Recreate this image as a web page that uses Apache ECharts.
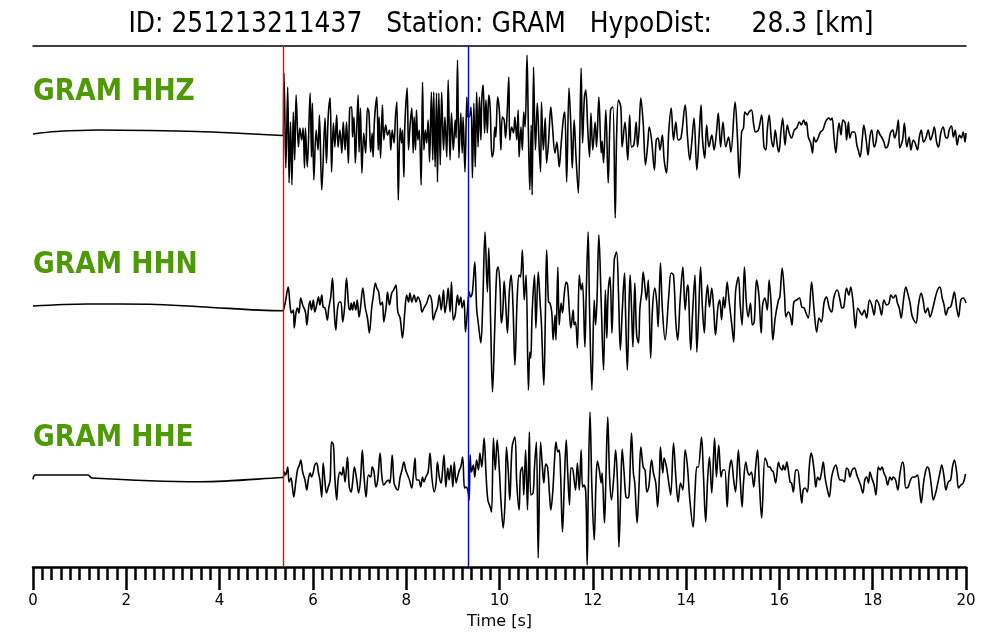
<!DOCTYPE html>
<html>
<head>
<meta charset="utf-8">
<script src="https://cdn.jsdelivr.net/npm/echarts@6/dist/echarts.min.js"></script>
<style>
html,body{margin:0;padding:0;background:#fff;}
#chart{width:1000px;height:640px;}
</style>
</head>
<body>
<div id="chart"></div>
<script>
// ---- Data (time [s], amplitude [arbitrary counts]) ----
const titleText = 'ID: 251213211437   Station: GRAM   HypoDist:     28.3 [km]';
const stationLabels = ['GRAM HHZ', 'GRAM HHN', 'GRAM HHE'];
const pPick = 5.36;   // red line
const sPick = 9.32;   // blue line
const xTicks = [0, 2, 4, 6, 8, 10, 12, 14, 16, 18, 20];

const hhz = [[0,-1],[0.5,1.5],[1.4,3],[2.5,2.5],[3.5,1.5],[4.5,-0.5],[5.35,-2.5],
[5.38,60],[5.42,-35],[5.46,46],[5.49,-50],[5.52,11],[5.55,-52],[5.58,21],[5.61,-27],[5.64,38],[5.69,-14],[5.72,5],[5.76,-7],[5.79,5],[5.82,-35],[5.84,5],[5.88,-34],[5.94,40],[5.97,-24],[5.99,30],[6.02,-47],[6.07,3],[6.11,-17],[6.14,18],[6.19,-57],[6.26,15],[6.29,-30],[6.33,18],[6.37,35],[6.40,-39],[6.44,10],[6.47,-14],[6.51,18],[6.54,-14],[6.58,3],[6.62,-20],[6.65,11],[6.69,-17],[6.72,11],[6.76,-30],[6.79,25],[6.83,26],[6.85,-4],[6.88,16],[6.91,-30],[6.94,6],[6.97,38],[6.99,-19],[7.02,25],[7.05,-40],[7.09,0],[7.13,-20],[7.17,25],[7.20,21],[7.24,-19],[7.27,0],[7.29,-24],[7.32,13],[7.37,36],[7.40,-17],[7.42,16],[7.45,-25],[7.49,28],[7.52,-7],[7.56,8],[7.60,-2],[7.64,3],[7.67,-17],[7.70,3],[7.74,-10],[7.77,16],[7.80,31],[7.83,-67],[7.87,5],[7.90,-10],[7.92,3],[7.95,-44],[7.97,6],[8.02,45],[8.05,-17],[8.08,6],[8.12,25],[8.15,-20],[8.17,16],[8.20,-17],[8.22,23],[8.25,-7],[8.28,3],[8.32,-52],[8.35,51],[8.38,-17],[8.41,3],[8.44,-10],[8.47,13],[8.50,-29],[8.54,41],[8.57,-27],[8.59,41],[8.62,-34],[8.65,40],[8.67,-49],[8.70,40],[8.73,-32],[8.76,41],[8.80,-17],[8.83,16],[8.87,-24],[8.90,53],[8.94,-27],[8.97,20],[9.01,-17],[9.05,13],[9.07,-5],[9.10,73],[9.13,-25],[9.17,20],[9.20,-20],[9.22,16],[9.26,-39],[9.30,36],[9.32,16],[9.35,16],[9.39,26],[9.42,-45],[9.45,30],[9.48,-34],[9.51,41],[9.54,-14],[9.57,36],[9.60,-7],[9.62,33],[9.65,48],[9.68,0],[9.71,33],[9.74,0],[9.77,38],[9.80,25],[9.84,-24],[9.87,-19],[9.90,6],[9.92,-4],[9.96,36],[10.00,20],[10.03,-17],[10.06,16],[10.10,13],[10.13,-5],[10.16,16],[10.20,56],[10.22,-7],[10.26,6],[10.30,0],[10.33,16],[10.37,-7],[10.40,23],
[10.42,-24],[10.46,6],[10.49,-17],[10.52,21],[10.55,6],[10.59,78],[10.62,0],[10.65,-57],[10.68,8],[10.70,-62],[10.73,66],[10.77,-17],[10.81,30],[10.85,-14],[10.88,-39],[10.90,31],[10.94,-17],[10.98,15],[11.01,-30],[11.05,-10],[11.10,26],[11.13,10],[11.19,-20],[11.23,-9],[11.28,-34],[11.32,-12],[11.37,15],[11.40,21],[11.44,-49],[11.49,45],[11.53,6],[11.56,-35],[11.60,13],[11.64,-24],[11.69,-60],[11.75,65],[11.78,-10],[11.82,36],[11.85,43],[11.89,6],[11.93,-24],[11.96,20],[12.00,-17],[12.05,11],[12.08,-14],[12.13,36],[12.18,-20],[12.20,-8],[12.23,-30],[12.28,23],[12.33,-50],[12.38,23],[12.43,26],[12.48,-85],[12.51,-4],[12.55,33],[12.60,26],[12.63,-14],[12.69,11],[12.75,-27],[12.79,18],[12.83,-14],[12.88,-12],[12.93,11],[12.96,-14],[12.99,1],[13.03,35],[13.08,10],[13.13,-32],[13.18,-10],[13.21,6],[13.26,-7],[13.32,-37],[13.36,-7],[13.40,-5],[13.44,-17],[13.49,-2],[13.53,-27],[13.58,-40],[13.63,3],[13.68,25],[13.73,-7],[13.78,11],[13.83,-7],[13.89,-5],[13.98,28],[14.03,-4],[14.08,-27],[14.12,-10],[14.17,15],[14.23,-37],[14.28,-2],[14.32,28],[14.35,-5],[14.40,-25],[14.44,8],[14.49,-14],[14.55,-2],[14.60,-17],[14.65,0],[14.69,20],[14.74,-14],[14.79,11],[14.85,-14],[14.91,-4],[14.96,-19],[15.05,31],[15.10,-4],[15.14,-45],[15.19,1],[15.23,5],[15.26,21],[15.31,18],[15.35,21],[15.40,23],[15.45,8],[15.49,1],[15.55,3],
[15.62,18],[15.67,-14],[15.71,-17],[15.74,3],[15.78,18],[15.83,-7],[15.87,-14],[15.91,3],[15.96,-14],[15.99,-19],[16.03,0],[16.07,15],[16.12,-12],[16.17,8],[16.21,0],[16.26,-5],[16.32,3],[16.37,5],[16.43,11],[16.47,8],[16.52,13],[16.56,8],[16.58,11],[16.62,-4],[16.67,-10],[16.71,-20],[16.74,-4],[16.78,-9],[16.83,-5],[16.88,1],[16.93,3],[16.98,10],[17.01,13],[17.06,15],[17.10,13],[17.13,15],[17.17,-4],[17.21,-20],[17.25,1],[17.28,10],[17.32,-2],[17.36,13],[17.41,10],[17.44,-7],[17.48,11],[17.51,-5],[17.56,1],[17.61,1],[17.66,-12],[17.69,-17],[17.73,-24],[17.78,-4],[17.81,8],[17.86,-7],[17.90,-22],[17.94,-4],[17.98,3],[18.03,-14],[18.07,-9],[18.11,3],[18.16,-2],[18.19,-4],[18.24,-9],[18.28,-15],[18.33,-12],[18.38,0],[18.43,3],[18.47,-5],[18.51,1],[18.55,13],[18.58,-15],[18.64,-7],[18.68,10],[18.73,-14],[18.78,-4],[18.82,-17],[18.87,-7],[18.91,-10],[18.96,-17],[19.00,-4],[19.04,3],[19.09,-9],[19.14,-5],[19.19,3],[19.24,-7],[19.28,-2],[19.32,6],[19.37,-9],[19.41,-14],[19.46,0],[19.51,6],[19.56,-4],[19.60,-5],[19.64,3],[19.69,7],[19.73,-4],[19.77,3],[19.81,-12],[19.86,-2],[19.90,-5],[19.94,1],[19.98,-9],[20.00,0]];

const hhn = [[0,1],[1.16,3],[2.5,2.7],[3.58,0.3],[5.35,-3.7],
[5.37,-3],[5.41,5],[5.47,20],[5.51,2],[5.54,-6],[5.58,-3],[5.60,-21],[5.64,-5],[5.67,-1],[5.70,-6],[5.74,9],[5.78,2],[5.84,-5],[5.87,-18],[5.91,0],[5.94,6],[5.97,-3],[6.01,7],[6.04,-5],[6.08,2],[6.12,10],[6.15,2],[6.19,12],[6.22,0],[6.26,-1],[6.31,-13],[6.34,-1],[6.38,9],[6.42,29],[6.45,2],[6.49,-23],[6.53,-1],[6.57,5],[6.60,5],[6.64,-15],[6.68,0],[6.72,29],[6.77,-1],[6.80,-3],[6.82,4],[6.85,-3],[6.88,5],[6.92,-3],[6.95,7],[6.99,-10],[7.02,-1],[7.07,19],[7.12,0],[7.17,-11],[7.21,-26],[7.26,-1],[7.29,9],[7.34,24],[7.37,19],[7.41,15],[7.45,2],[7.49,5],[7.52,-15],[7.57,0],[7.60,15],[7.64,2],[7.69,14],[7.73,17],[7.78,22],[7.82,-5],[7.87,-11],[7.92,-31],[7.97,-5],[8.01,12],[8.05,5],[8.08,14],[8.12,5],[8.17,12],[8.21,5],[8.25,10],[8.30,5],[8.34,-5],[8.38,-1],[8.44,4],[8.50,12],[8.55,5],[8.58,-13],[8.63,-5],[8.67,0],[8.71,12],[8.75,-3],[8.80,17],[8.83,-6],[8.87,5],[8.90,19],[8.94,-5],[8.97,25],[9.01,-13],[9.05,-8],[9.10,12],[9.13,2],[9.17,10],[9.20,-1],[9.24,7],[9.27,-25],[9.31,-5],[9.35,15],[9.38,10],[9.42,15],[9.47,45],[9.51,-1],[9.55,-18],[9.60,-36],[9.64,2],[9.69,75],[9.74,15],[9.77,59],[9.81,-15],[9.85,-85],[9.90,-18],[9.94,35],[9.97,40],[10.01,22],[10.04,-16],[10.07,-5],[10.10,26],[10.14,-3],[10.17,-26],[10.21,15],[10.25,32],[10.29,0],[10.33,-58],[10.38,10],[10.42,32],[10.45,30],
[10.49,57],[10.53,7],[10.57,32],[10.62,-83],[10.65,-45],[10.67,-51],[10.70,-5],[10.75,32],[10.78,-21],[10.83,35],[10.87,5],[10.90,-18],[10.95,-78],[10.98,-18],[11.01,57],[11.05,5],[11.08,4],[11.12,-5],[11.15,-33],[11.19,-8],[11.21,-33],[11.25,40],[11.28,-18],[11.32,4],[11.35,-6],[11.39,14],[11.43,25],[11.46,22],[11.50,-6],[11.53,-21],[11.58,-3],[11.60,-18],[11.63,-15],[11.67,-41],[11.71,32],[11.75,17],[11.78,24],[11.83,-40],[11.86,15],[11.90,75],[11.93,-1],[11.98,-83],[12.03,7],[12.06,-18],[12.09,7],[12.13,72],[12.18,5],[12.23,-63],[12.27,17],[12.30,-31],[12.33,15],[12.37,30],[12.41,-26],[12.46,47],[12.51,55],[12.55,15],[12.59,-43],[12.63,-5],[12.68,34],[12.70,-1],[12.74,-63],[12.78,9],[12.80,32],[12.83,-1],[12.86,-40],[12.90,24],[12.94,-28],[12.98,-36],[13.01,-1],[13.05,15],[13.08,35],[13.12,19],[13.15,7],[13.19,27],[13.24,-51],[13.28,-1],[13.33,19],[13.37,5],[13.40,-20],[13.45,44],[13.49,-1],[13.55,-33],[13.63,12],[13.68,34],[13.73,32],[13.78,-15],[13.82,-33],[13.87,5],[13.93,40],[13.98,-3],[14.03,22],[14.05,17],[14.10,-43],[14.14,-5],[14.19,32],[14.23,-45],[14.27,-5],[14.31,40],[14.35,-1],[14.39,-26],[14.42,2],[14.46,22],[14.50,0],[14.55,19],[14.59,-1],[14.63,-28],[14.68,-1],[14.72,7],[14.76,-13],[14.80,10],[14.83,-1],[14.88,25],[14.92,7],[14.98,-18],[15.02,-35],[15.06,15],[15.12,30],[15.16,2],[15.20,-18],[15.25,40],[15.29,5],[15.33,-10],[15.38,4],[15.42,-18],[15.46,-15],[15.51,27],[15.56,12],[15.61,-26],
[15.64,2],[15.69,9],[15.74,-3],[15.78,27],[15.82,5],[15.86,-33],[15.91,-11],[15.98,7],[16.01,10],[16.06,39],[16.11,12],[16.14,-10],[16.19,-5],[16.23,-8],[16.27,-18],[16.31,5],[16.37,7],[16.43,9],[16.48,0],[16.53,-1],[16.57,-6],[16.62,-11],[16.69,25],[16.74,-1],[16.80,-25],[16.85,-11],[16.90,-15],[16.96,5],[17.01,10],[17.07,-1],[17.12,-5],[17.17,10],[17.24,17],[17.30,7],[17.34,-1],[17.38,0],[17.44,19],[17.49,12],[17.53,20],[17.58,4],[17.63,-21],[17.68,-1],[17.73,-5],[17.77,-8],[17.82,-3],[17.87,-11],[17.93,7],[17.98,2],[18.03,-8],[18.08,7],[18.14,2],[18.19,-8],[18.24,7],[18.30,2],[18.35,4],[18.39,12],[18.44,9],[18.49,12],[18.53,4],[18.57,-1],[18.61,-11],[18.66,7],[18.71,20],[18.76,12],[18.80,4],[18.84,-8],[18.88,-13],[18.93,-16],[18.98,2],[19.04,14],[19.08,7],[19.13,-6],[19.18,-1],[19.23,-10],[19.29,-1],[19.34,9],[19.39,17],[19.44,20],[19.49,9],[19.53,2],[19.57,-8],[19.62,-1],[19.67,0],[19.71,7],[19.75,15],[19.80,-1],[19.84,-10],[19.89,7],[19.94,9],[20.00,4]];

const hhe = [[0,-1.3],[0.05,3],[1.18,3],[1.26,0],[3.58,-3.7],[5.35,0.5],
[5.37,1],[5.39,6],[5.42,3],[5.46,11],[5.49,-4],[5.53,0],[5.56,-9],[5.59,-19],[5.63,-5],[5.67,8],[5.71,13],[5.74,18],[5.78,6],[5.83,-2],[5.87,-12],[5.90,-2],[5.94,5],[5.97,1],[6.01,6],[6.04,13],[6.08,15],[6.12,5],[6.15,-2],[6.19,-19],[6.22,15],[6.26,-4],[6.29,-15],[6.33,-9],[6.37,-2],[6.40,36],[6.44,33],[6.47,1],[6.51,-22],[6.54,-2],[6.58,6],[6.62,3],[6.65,11],[6.69,-4],[6.74,21],[6.78,-9],[6.82,-14],[6.85,-5],[6.89,11],[6.94,-2],[6.98,-15],[7.02,-2],[7.06,28],[7.09,6],[7.14,-19],[7.19,3],[7.24,1],[7.27,11],[7.31,6],[7.35,-9],[7.39,-2],[7.44,25],[7.48,1],[7.52,-7],[7.57,-4],[7.62,-2],[7.65,-5],[7.70,23],[7.74,-5],[7.78,-10],[7.82,-12],[7.87,1],[7.91,8],[7.95,16],[7.99,8],[8.03,3],[8.07,-2],[8.12,-10],[8.15,1],[8.19,20],[8.22,-2],[8.27,-2],[8.31,-9],[8.35,1],[8.38,-4],[8.42,1],[8.47,6],[8.51,25],[8.55,1],[8.60,-14],[8.64,-5],[8.67,16],[8.71,1],[8.75,-5],[8.78,8],[8.81,23],[8.85,-9],[8.89,10],[8.92,-2],[8.96,13],[9.00,-9],[9.03,16],[9.07,-5],[9.10,1],[9.14,8],[9.17,11],[9.21,21],[9.25,-10],[9.28,-9],[9.32,-12],[9.35,-22],[9.37,23],[9.40,6],[9.44,13],[9.47,1],[9.51,18],[9.55,8],[9.58,25],[9.62,11],[9.67,40],[9.71,5],[9.75,-22],[9.80,-29],[9.83,-34],[9.87,40],[9.91,8],[9.95,38],[10.00,5],[10.03,-22],[10.08,-50],[10.12,-22],[10.15,31],[10.19,5],[10.22,-22],[10.27,31],
[10.33,41],[10.37,-5],[10.42,-32],[10.45,6],[10.49,11],[10.52,-17],[10.56,28],[10.60,-32],[10.64,46],[10.67,-17],[10.72,-15],[10.75,11],[10.79,36],[10.83,-80],[10.88,36],[10.92,11],[10.95,-5],[10.99,14],[11.03,11],[11.07,-15],[11.10,-32],[11.14,-15],[11.18,18],[11.21,36],[11.25,26],[11.28,28],[11.31,3],[11.35,-54],[11.39,-5],[11.43,38],[11.46,8],[11.50,-27],[11.53,10],[11.56,10],[11.60,-2],[11.63,-12],[11.67,15],[11.71,-12],[11.75,28],[11.78,-9],[11.81,-7],[11.85,-15],[11.88,-87],[11.90,-22],[11.94,66],[11.98,-9],[12.03,-62],[12.07,-2],[12.10,17],[12.14,8],[12.18,-5],[12.20,5],[12.25,-45],[12.28,-2],[12.32,61],[12.36,1],[12.40,-22],[12.45,1],[12.49,28],[12.53,-5],[12.56,-69],[12.60,-12],[12.63,29],[12.67,6],[12.71,-19],[12.75,-20],[12.78,-15],[12.83,45],[12.87,5],[12.90,-5],[12.95,-45],[12.99,-9],[13.03,31],[13.08,11],[13.12,8],[13.16,-14],[13.20,-9],[13.26,18],[13.30,5],[13.35,-5],[13.39,-29],[13.43,5],[13.45,31],[13.50,5],[13.53,20],[13.58,11],[13.62,-2],[13.67,-17],[13.73,35],[13.78,1],[13.83,-24],[13.88,-5],[13.93,-12],[13.98,28],[14.03,11],[14.08,-22],[14.15,-49],[14.19,-15],[14.23,11],[14.26,11],[14.33,41],[14.37,5],[14.42,-44],[14.46,-2],[14.50,21],[14.55,-15],[14.61,40],[14.65,1],[14.70,33],[14.75,1],[14.79,8],[14.83,8],[14.88,-29],[14.92,5],[14.97,18],[15.02,-2],[15.06,-14],[15.12,28],[15.16,-2],[15.20,-29],[15.23,-5],[15.28,16],[15.32,6],[15.36,3],[15.40,6],[15.45,-9],[15.49,11],[15.53,28],[15.57,-5],[15.62,-40],
[15.69,20],[15.73,16],[15.76,11],[15.80,11],[15.83,8],[15.87,6],[15.92,-5],[15.98,16],[16.01,11],[16.06,8],[16.08,13],[16.12,8],[16.16,16],[16.19,8],[16.23,-4],[16.26,-5],[16.30,-14],[16.35,8],[16.39,8],[16.44,-9],[16.48,-25],[16.51,-12],[16.55,-10],[16.60,-14],[16.64,11],[16.68,25],[16.71,20],[16.75,5],[16.78,-9],[16.82,1],[16.86,-2],[16.90,5],[16.94,16],[16.98,0],[17.03,-12],[17.07,-19],[17.12,1],[17.17,10],[17.21,13],[17.26,3],[17.30,-2],[17.35,-2],[17.39,-4],[17.44,10],[17.48,8],[17.51,1],[17.56,8],[17.61,10],[17.66,3],[17.70,-2],[17.74,-7],[17.79,-15],[17.83,-2],[17.87,1],[17.91,-5],[17.94,6],[17.98,0],[18.03,-7],[18.07,-17],[18.12,11],[18.16,8],[18.20,11],[18.24,5],[18.28,1],[18.32,-7],[18.37,1],[18.41,-2],[18.44,1],[18.49,-2],[18.54,-12],[18.58,3],[18.64,16],[18.67,11],[18.71,-10],[18.76,-9],[18.81,-2],[18.86,1],[18.91,1],[18.96,3],[19.00,-10],[19.04,-25],[19.09,-5],[19.13,6],[19.17,11],[19.21,8],[19.26,-9],[19.30,-22],[19.35,-15],[19.40,-4],[19.44,5],[19.48,13],[19.53,1],[19.57,-12],[19.62,-4],[19.67,-2],[19.71,11],[19.75,18],[19.80,6],[19.84,-10],[19.89,-7],[19.94,-5],[19.99,4]];

// ---- Layout (trace baselines in axis units, not data) ----
const traces = [hhz, hhn, hhe];
const baselines = [434, 260, 89];
const yMax = 521;
const labelY = [92, 265, 438];
const green = '#4d9a06';
const FONT = '"DejaVu Sans", sans-serif';

const chart = echarts.init(document.getElementById('chart'), null, {renderer: 'canvas'});

const series = traces.map((tr, i) => ({
  type: 'line',
  data: tr.map(p => [p[0], baselines[i] + p[1]]),
  showSymbol: false,
  symbol: 'none',
  silent: true,
  smooth: 0.35,
  lineStyle: {color: '#000', width: 1.6, join: 'round'},
  z: 2
}));
series[2].markLine = {
  silent: true,
  symbol: ['none', 'none'],
  label: {show: false},
  animation: false,
  data: [
    {xAxis: pPick, lineStyle: {color: '#ff0000', width: 1.4, type: 'solid'}},
    {xAxis: sPick, lineStyle: {color: '#0000ff', width: 1.4, type: 'solid'}}
  ]
};

const graphics = [
  {type: 'text', x: 501, y: 25, scaleY: 1.1,
   style: {text: titleText, fill: '#000', font: '25px ' + FONT, textAlign: 'center', textVerticalAlign: 'middle'}}
].concat(stationLabels.map((s, i) => ({
  type: 'text', x: 33, y: labelY[i], scaleY: 1.15,
  style: {text: s, fill: green, font: 'bold 26.5px ' + FONT, textAlign: 'left', textVerticalAlign: 'middle'}
})));

chart.setOption({
  animation: false,
  backgroundColor: '#fff',
  grid: {left: 33, right: 34, top: 46, bottom: 73, containLabel: false},
  xAxis: [{
    type: 'value', min: xTicks[0], max: xTicks[xTicks.length - 1], interval: 2,
    position: 'bottom',
    name: 'Time [s]', nameLocation: 'middle', nameGap: 38,
    nameTextStyle: {color: '#000', fontSize: 16, fontFamily: FONT},
    axisLine: {show: true, onZero: false, lineStyle: {color: '#000', width: 2.5}},
    axisTick: {show: true, length: 23, lineStyle: {color: '#000', width: 2.5}},
    minorTick: {show: true, splitNumber: 10, length: 13, lineStyle: {color: '#000', width: 2.5}},
    axisLabel: {color: '#000', fontSize: 15, fontFamily: FONT, margin: 27},
    splitLine: {show: false}, minorSplitLine: {show: false}
  }, {
    type: 'value', min: 0, max: 20, position: 'top',
    axisLine: {show: true, onZero: false, lineStyle: {color: '#000', width: 1.5}},
    axisTick: {show: false}, axisLabel: {show: false}, splitLine: {show: false}
  }],
  yAxis: {type: 'value', min: 0, max: yMax, show: false, splitLine: {show: false}},
  graphic: graphics,
  series: series
});
</script>
</body>
</html>
